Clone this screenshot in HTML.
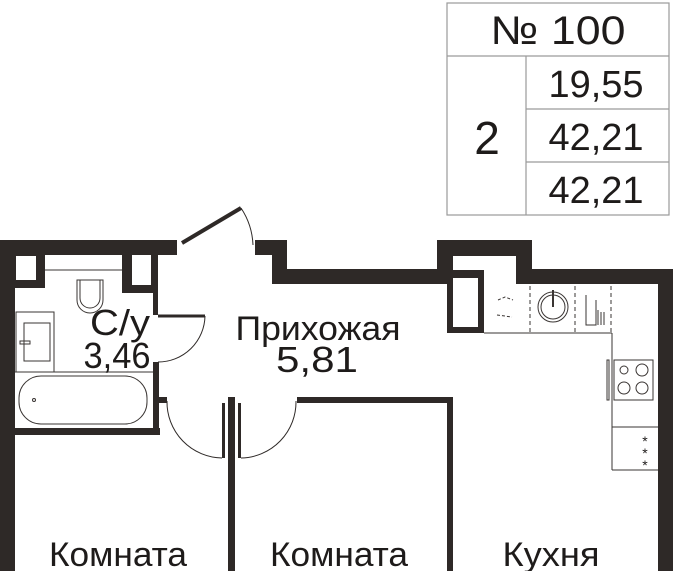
<!DOCTYPE html>
<html><head><meta charset="utf-8"><style>
html,body{margin:0;padding:0;background:#fff;}
svg{display:block;}
text{font-family:"Liberation Sans",sans-serif;fill:#1e1b1a;}
</style></head><body>
<svg width="673" height="571" viewBox="0 0 673 571" xmlns="http://www.w3.org/2000/svg">
<rect width="673" height="571" fill="#fff"/>
<!-- table -->
<g fill="none" stroke="#9a9a9a" stroke-width="1.2">
<rect x="447" y="3" width="222" height="212"/>
<line x1="447" y1="56" x2="669" y2="56"/>
<line x1="526" y1="56" x2="526" y2="215"/>
<line x1="526" y1="109" x2="669" y2="109"/>
<line x1="526" y1="162" x2="669" y2="162"/>
</g>
<text x="558" y="44" font-size="40" text-anchor="middle" textLength="135" lengthAdjust="spacingAndGlyphs">№ 100</text>
<text x="487" y="154" font-size="46" text-anchor="middle">2</text>
<text x="596" y="97" font-size="38" text-anchor="middle">19,55</text>
<text x="596" y="150" font-size="38" text-anchor="middle">42,21</text>
<text x="596" y="203" font-size="38" text-anchor="middle">42,21</text>

<g fill="#2e2927">
<rect x="0" y="240" width="177" height="15"/>
<rect x="0" y="240" width="15" height="331"/>
<rect x="255" y="240" width="32" height="15"/>
<rect x="272" y="240" width="15" height="44"/>
<rect x="272" y="269" width="175" height="15"/>
<rect x="437" y="240" width="95" height="16"/>
<rect x="437" y="240" width="16" height="44"/>
<rect x="516" y="240" width="16" height="44"/>
<rect x="516" y="269" width="157" height="15"/>
<rect x="658" y="269" width="15" height="302"/>
<rect x="447" y="270" width="37" height="63"/>
<rect x="15" y="255" width="30" height="33"/>
<rect x="122" y="255" width="33" height="38"/>
<rect x="153" y="255" width="5" height="60"/>
<rect x="153" y="362" width="6" height="73"/>
<rect x="155" y="397" width="12" height="6"/>
<rect x="15" y="428" width="145" height="7"/>
<rect x="228" y="397" width="7" height="174"/>
<rect x="222" y="403" width="3" height="55"/>
<rect x="238" y="403" width="3" height="55"/>
<rect x="297" y="397" width="156" height="6"/>
<rect x="447" y="397" width="6" height="174"/>
</g>
<g fill="#fff">
<rect x="16" y="256" width="20" height="24"/>
<rect x="132" y="255" width="19" height="30"/>
<rect x="453" y="278" width="25" height="49"/>
<rect x="453" y="256" width="63" height="13"/>
</g>
<g stroke="#2e2927" fill="none">
<line x1="182" y1="243" x2="241" y2="208" stroke-width="4"/>
<path d="M241 208 A72 72 0 0 1 253 245" stroke-width="1"/>
<line x1="158" y1="316" x2="205" y2="316" stroke-width="3"/>
<path d="M205 316 A47 47 0 0 1 158 362" stroke-width="1"/>
<path d="M167 401 A56 56 0 0 0 222 458" stroke-width="1"/>
<path d="M296 401 A56 56 0 0 1 241 458" stroke-width="1"/>
</g>
<g stroke="#3a3533" fill="none" stroke-width="1">
<line x1="45" y1="270" x2="122" y2="270"/>
<path d="M77 280 V300 A13 13 0 0 0 103 300 V280 Z"/>
<path d="M80 280 V298 A10 10 0 0 0 100 298 V280"/>
<rect x="16" y="312" width="38" height="60"/>
<rect x="24" y="323" width="26" height="38"/>
<rect x="20" y="341" width="10" height="3"/>
<line x1="15" y1="372" x2="153" y2="372"/>
<rect x="19" y="376" width="128" height="48" rx="22"/>
<circle cx="34" cy="400" r="1.5"/>
<line x1="484" y1="333" x2="612" y2="333"/>
<line x1="612" y1="333" x2="612" y2="470"/>
<line x1="612" y1="427" x2="658" y2="427"/>
<line x1="612" y1="470" x2="658" y2="470"/>
<g stroke-dasharray="4 3"><line x1="530" y1="286" x2="530" y2="333"/><line x1="575" y1="286" x2="575" y2="333"/><line x1="611" y1="286" x2="611" y2="333"/></g>
<circle cx="553" cy="307" r="15"/><circle cx="553" cy="307" r="12"/>
<line x1="553" y1="290" x2="553" y2="307" stroke-width="2"/>
<path d="M586 295 V325 H596 V300" />
<path d="M598 310 V325 M601 312 V325 M604 312 V325"/>
<path d="M498 300 L505 297 L513 300 M497 315 L512 317" stroke-dasharray="3 2"/>
<rect x="614" y="360" width="39" height="40"/>
<circle cx="624" cy="370" r="4"/><circle cx="642" cy="370" r="6"/>
<circle cx="624" cy="388" r="6"/><circle cx="642" cy="388" r="6"/>
<rect x="607" y="360" width="2" height="40"/>
</g>
<text x="645" y="446" font-size="14" text-anchor="middle">*</text>
<text x="645" y="458" font-size="14" text-anchor="middle">*</text>
<text x="645" y="470" font-size="14" text-anchor="middle">*</text>
<text x="120" y="335" font-size="36" text-anchor="middle" textLength="60" lengthAdjust="spacingAndGlyphs">С/у</text>
<text x="117" y="368" font-size="36" text-anchor="middle" textLength="67" lengthAdjust="spacingAndGlyphs">3,46</text>
<text x="318" y="340" font-size="34" text-anchor="middle" textLength="165" lengthAdjust="spacingAndGlyphs">Прихожая</text>
<text x="317" y="372" font-size="36" text-anchor="middle" textLength="82" lengthAdjust="spacingAndGlyphs">5,81</text>
<text x="118" y="566" font-size="34" text-anchor="middle" textLength="138" lengthAdjust="spacingAndGlyphs">Комната</text>
<text x="339" y="566" font-size="34" text-anchor="middle" textLength="138" lengthAdjust="spacingAndGlyphs">Комната</text>
<text x="551" y="566" font-size="34" text-anchor="middle" textLength="97" lengthAdjust="spacingAndGlyphs">Кухня</text>
</svg>
</body></html>
